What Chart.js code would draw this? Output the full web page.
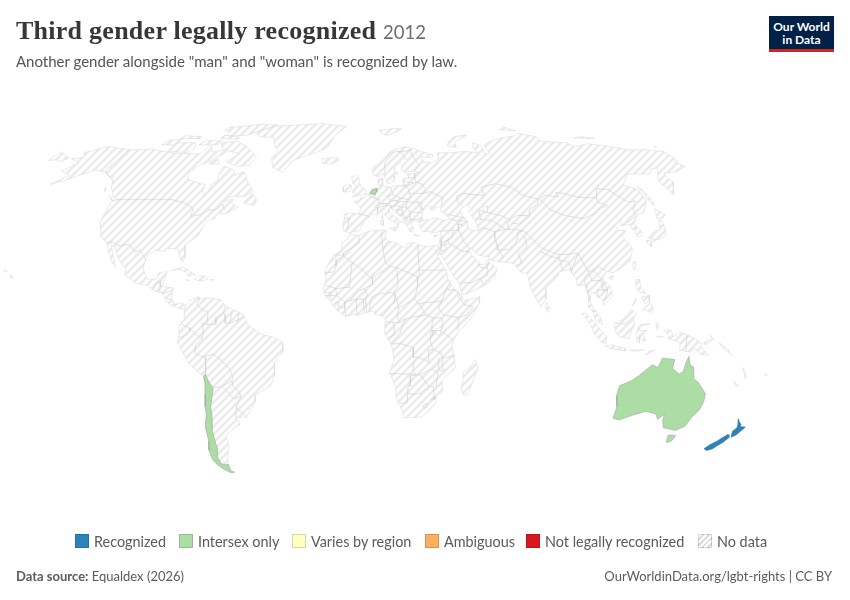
<!DOCTYPE html>
<html>
<head>
<meta charset="utf-8">
<script src="https://cdn.jsdelivr.net/npm/chart.js@4"></script>
<style>
  html,body{margin:0;padding:0;background:#fff}
  body{width:850px;height:600px;position:relative;overflow:hidden;font-family:Lato,sans-serif}
  canvas{position:absolute;left:0;top:0}
  .t{position:absolute;white-space:nowrap}
  #title{left:16px;top:16px;font:bold 26px "Liberation Serif",serif;color:#373737;letter-spacing:.26px}
  #title span{font:400 18.5px Lato,sans-serif;color:#6e6e6e;letter-spacing:0;margin-left:0}
  #sub{left:16px;top:52px;font-size:15px;color:#555}
  #logo{position:absolute;left:769px;top:16px;width:65px;height:36px;background:#002147;border-bottom:3px solid #ce261e;box-sizing:border-box;color:#fff;font:bold 12px/13px Lato,sans-serif;text-align:center;padding-top:4px}
  .lg{position:absolute;top:534px;width:14px;height:14px;box-sizing:border-box;border:1px solid rgba(0,0,0,.15)}
  .lt{top:532.5px;font-size:14.4px;color:#5b5b5b}
  #src{left:16px;top:568px;font-size:13px;color:#5b5b5b}
  #src b{font-weight:700}
  #cc{right:18px;top:568px;font-size:13px;color:#5b5b5b}
</style>
</head>
<body>
<canvas id="map" width="850" height="600"></canvas>
<div class="t" id="title">Third gender legally recognized <span>2012</span></div>
<div class="t" id="sub">Another gender alongside "man" and "woman" is recognized by law.</div>
<div id="logo">Our World<br>in Data</div>
<div id="legend"></div>
<div class="t" id="src"><b>Data source:</b> Equaldex (2026)</div>
<div class="t" id="cc">OurWorldinData.org/lgbt-rights | CC BY</div>
<script>
// ===== land outlines, [lon, lat] =====
const eurasia = [[-5.6,36],[-9,37],[-9.5,38.8],[-8.8,41.5],[-9.2,43.1],[-7.5,43.8],[-1.8,43.4],[-1.2,45.5],[-2.5,47.3],[-4.7,48.3],[-1.6,48.7],[-1.5,49.7],[.2,49.6],[1.6,50.9],[3.5,51.4],[4.7,53],[7,53.4],[8.6,53.9],[8.2,55.5],[8.1,57],[10.6,57.7],[10.3,56.5],[10,55],[11,54],[12.5,54.4],[14.2,53.9],[16.5,54.5],[18.6,54.6],[19.8,54.4],[21.1,55.2],[21,57],[22.6,57.7],[24.4,57.2],[24.4,58.4],[23.5,59.2],[28,59.5],[30.2,59.9],[28.5,60.5],[25,60.2],[22.9,59.9],[21.3,60.8],[21.4,62.5],[25.3,65],[24.2,65.8],[22,65.5],[21.3,64.4],[17.5,62],[17.2,60.7],[18.9,59.8],[16.7,58.5],[16.5,56.5],[14.3,55.5],[12.9,55.4],[11.2,58.9],[10.6,59.4],[8.5,58.2],[5.6,58.9],[5,61.5],[8.5,63.5],[12.5,66],[15.5,68.5],[20,70],[25.7,71.1],[31,70.3],[33,69.4],[41,67.5],[40,66.2],[33.5,66.7],[34.8,64.5],[38,64],[40.5,64.6],[44,66],[44,68.3],[54,68.5],[60,69],[68,68.5],[67,71],[69,73],[73,71.5],[72.5,68],[75,68],[75,72],[80.5,73.5],[87,75],[100,76.4],[104.3,77.7],[113,76],[113,73.8],[128,73],[130,71],[140,72.6],[150,71.5],[160,69.7],[170,69.8],[180,69],[180,65],[177.5,64.6],[179.5,62.4],[170,60],[163.5,59.8],[162,57.8],[163,56],[156.7,51],[155.7,56],[156.8,57.7],[163,61.6],[160,61.8],[155,59.3],[143,59.3],[135.2,54.8],[141,53],[140.5,48.5],[135.5,44],[132,43.2],[130.7,42.3],[127.6,39.8],[129.4,37],[129,35.2],[126.4,34.5],[126.7,37.2],[125.2,38],[125.3,39.6],[121.2,38.8],[122,40.5],[118,39.2],[119,37.3],[122.5,37],[119.3,35],[121.9,31.5],[122,29.8],[119.5,25.5],[114,22.3],[110.5,21],[108.3,21.6],[105.8,19],[108.8,15.5],[109.3,12],[105,8.7],[105,10.4],[102.5,12],[100.9,13.5],[100,13.4],[99.2,10],[100.5,7.2],[103.4,4],[104.2,1.4],[101.3,2.9],[100.3,6],[98.3,8],[98.7,12],[97.6,16.5],[94.3,16],[94.3,18.5],[91.8,22.4],[89,21.8],[87,21.4],[86.5,20],[82.3,16.6],[80.2,15],[80,11],[77.5,8.1],[76.2,10],[73.5,16],[72.8,21],[70.5,20.8],[69,22.3],[67.5,24.5],[61.6,25.2],[57.3,25.7],[56.4,27],[52,27.7],[48.9,30.3],[48,29.9],[48.7,28],[50.2,26.6],[51.5,25],[51.6,24.3],[54,24.2],[56.4,26.2],[56.4,24.9],[59.8,22.5],[57.8,19],[55,17],[52,15.6],[45,12.8],[43.4,12.7],[42.8,15],[42.6,16.5],[39.2,21],[37,25],[35,28],[34.9,29.5],[34.3,31.3],[35,33],[36,35],[36,36.8],[32.5,36.1],[30.6,36.8],[27.5,36.7],[26.3,39.3],[26.7,40.3],[29,41],[31.4,41.2],[35,42],[38,41],[41.5,41.5],[39,43.8],[37.5,44.8],[38.5,46.5],[35,45.7],[33.5,44.5],[32.6,45.5],[33.5,46.1],[31,46.6],[29.7,45.2],[28.6,43.5],[28,42],[29,41.2],[26.7,40.6],[24,40.8],[23.5,40.2],[22.7,40.3],[23,38.8],[24,38],[23,36.5],[21.7,36.9],[21,38.4],[19.4,40.3],[19.5,41.8],[17,43],[14.6,45.1],[13.6,45.7],[12.3,45.3],[12.5,44],[13.6,43.5],[16,41.9],[18.5,40.2],[17,40.5],[16.6,39],[16,38],[15.7,40],[12.5,41.4],[10.5,42.9],[8.8,44.4],[6.5,43.1],[4,43.5],[3.1,42.4],[.5,40.6],[-.3,39.2],[-2,36.8],[-4.5,36.7]]
const africa = [[-5.9,35.8],[-2,35.1],[3,36.9],[9.8,37.3],[11,36.9],[10.2,34.3],[11.2,33.2],[15.3,32.3],[19.2,30.3],[20,32],[23,32.7],[25,31.6],[29,30.9],[32.3,31.3],[34.3,31.3],[34.9,29.5],[34.2,27.8],[32.6,29.9],[33.8,27],[35.5,24],[37.2,21],[37.4,18.7],[39.5,15.5],[43.2,12.4],[43.3,11.5],[44.5,10.4],[51.2,11.9],[50.8,9.4],[47.9,4.5],[42,-1],[39.7,-4],[38.8,-6.5],[39.5,-10],[40.6,-15],[36.5,-18.5],[34.9,-20],[35.5,-24],[32.8,-25.9],[32.8,-28.5],[30,-31.5],[27,-33.8],[22,-34.1],[18.4,-34.1],[18.2,-32],[15,-27],[14.5,-22.5],[11.8,-17],[13.5,-12],[13,-8.5],[12.2,-6],[9.3,-2],[9.5,1],[9.8,3.5],[8.5,4.6],[5.5,5],[4.5,6.3],[1,5.9],[-2,4.8],[-4.5,5.2],[-7.5,4.4],[-11.4,6.9],[-13.3,9],[-15,11],[-16.7,12.4],[-17.5,14.7],[-16.3,19],[-17,21],[-16,23.7],[-13,27.8],[-9.8,29.5],[-9.5,32.5],[-6.9,34]]
const northAmerica = [[-168,65.6],[-162,66.5],[-166,68.4],[-156.5,71.3],[-141,69.7],[-128,70],[-115,68.5],[-108,68],[-96,68],[-94,72],[-90,68.7],[-85,69.5],[-81.5,69],[-85,66],[-87,65],[-93,62],[-94.5,59],[-92.5,57],[-85,55.3],[-82,55],[-82,52.5],[-80,51.3],[-79,52],[-79,54.7],[-76.8,56.5],[-78,58.8],[-77.5,62.5],[-71,61],[-69,58.8],[-65,60.3],[-60,55.5],[-56,52.5],[-59,50.3],[-66.5,50.2],[-69,48.2],[-65,49.2],[-64.7,47.5],[-61,46],[-65.5,43.6],[-70,43.7],[-70.7,41.7],[-74,40.6],[-75.5,37.5],[-75.9,35.5],[-78,33.9],[-81.2,31.5],[-80,27],[-80.5,25.2],[-81.8,26],[-82.8,28],[-84,30],[-89,30.3],[-89.5,29.2],[-94,29.5],[-97.3,27.5],[-97.8,22.5],[-95.5,18.7],[-91.5,18.5],[-90.5,21],[-87,21.5],[-88,17],[-88.6,15.8],[-83.5,15.3],[-83.7,11],[-82,9],[-79.5,9.6],[-77.4,8.6],[-77.9,7.2],[-80.3,7.4],[-83,8.3],[-85.8,10],[-87.6,13],[-91.5,14],[-94.5,16.2],[-100,16.9],[-105.6,20.4],[-105.5,22.5],[-109.3,26],[-113,31],[-114.7,31.7],[-112,26.5],[-110,23],[-112,24.8],[-115,29],[-117.1,32.5],[-120.6,34.5],[-124.3,40.3],[-124.6,48.3],[-122.5,48.7],[-125,50],[-130,54],[-133.5,58],[-137,58.5],[-140,60],[-147,61],[-152,59],[-158,56.5],[-163,55],[-158,58.7],[-165,60.5],[-161,64]]
const southAmerica = [[-77.4,8.6],[-75.5,10.7],[-72,12],[-71.5,10.8],[-68,11.5],[-62,10.7],[-60,8.4],[-52,5],[-50,1],[-44,-2.5],[-39,-3.5],[-35,-5.5],[-35,-9],[-39,-13],[-39,-18],[-41,-22],[-48,-25.5],[-48.6,-28],[-53.5,-34],[-58.4,-34],[-57,-36.5],[-62,-39],[-65,-41],[-65,-45],[-68,-50],[-68.5,-52.5],[-72,-53],[-74,-50],[-75,-47],[-73,-42],[-73.5,-38],[-71.5,-32],[-70,-25],[-70.3,-18.4],[-76,-14],[-81,-5.5],[-80,-2.5],[-80,.5],[-77.5,4],[-77.9,7.2]]
const chukotkaEast = [[-180,68.9],[-175,67.4],[-170,66.1],[-172.5,64.4],[-176,65.3],[-180,65]]
const greenland = [[-73,78.2],[-68,76],[-58,75.5],[-54,71],[-51,69.5],[-53,66],[-50,62],[-44,60],[-40,65],[-30,68],[-22,70.5],[-20,74],[-18,77],[-12,81.5],[-30,83.5],[-45,82.5],[-60,82],[-65,81]]
const baffin = [[-80,73.7],[-72,71.5],[-62,66.5],[-64,63],[-70,62.5],[-78,64.5],[-73,68],[-85,70],[-89,73]]
const victoriaIs = [[-117,69],[-105,68.5],[-102,70],[-105,73],[-117,73]]
const banksIs = [[-125,72],[-118,72],[-116,74.5],[-124,74.3]]
const ellesmere = [[-90,76.5],[-78,76.5],[-62,82.5],[-75,83],[-92,81]]
const devonIs = [[-92,75],[-80,74.7],[-81,75.8],[-92,76.7]]
const melvilleIs = [[-118,75],[-105,75],[-106,76],[-117,76.5]]
const axelHeiberg = [[-95,79],[-87,78.5],[-90,81],[-95,81]]
const somersetIs = [[-102,72],[-90,72],[-90,74],[-100,74]]
const southampton = [[-87,63.5],[-81,63.5],[-84,65.8]]
const newfoundland = [[-59,47.7],[-53,46.7],[-53,49],[-56,51.5]]
const vancouverIs = [[-128,50.7],[-123.5,48.4],[-125,48.8]]
const haidaGwaii = [[-133,54],[-131.5,53],[-132,52.3]]
const cuba = [[-85,21.9],[-80,23.1],[-74.2,20.2],[-77.7,19.9],[-78.5,21.2],[-82,22.4]]
const hispaniola = [[-74.4,18.5],[-72.8,19.9],[-69.9,19.7],[-68.4,18.6],[-71.5,17.8]]
const jamaica = [[-78.3,18.4],[-76.3,18.1],[-77.5,17.8]]
const puertoRico = [[-67.2,18.5],[-65.6,18.4],[-66.5,17.9]]
const hawaii = [[-156,20.2],[-155,19.7],[-155.7,18.9]]
const kauai = [[-159.8,22.2],[-157.8,21.6],[-158.3,21.2]]
const iceland = [[-24,65.5],[-20,66.1],[-15,66.3],[-13.6,65],[-18.7,63.4],[-22.7,63.8]]
const britain = [[-5.6,50],[1.4,51.2],[1.7,52.7],[-.3,53.7],[-2,55.8],[-2,57.6],[-3.5,58.6],[-6,58.3],[-5.5,55.5],[-3,54.5],[-4.8,53],[-5,51.7],[-3,51.3]]
const ireland = [[-10,52],[-6.3,52.2],[-6,54.5],[-7.3,55.3],[-10,54.2]]
const svalbard = [[11,79],[21,80.3],[27,80],[18,77],[15,76.7]]
const novayaZemlya = [[52,71.5],[57,70.7],[58,73.5],[69,76.8],[60,76],[54,73.5]]
const severnaya = [[95,79.5],[105,79],[100,81]]
const newSiberian = [[137,75.3],[146,75],[150,75.2],[142,76]]
const wrangelIs = [[178.6,71],[180,71],[180,71.5]]
const sakhalin = [[142,54.3],[143,53],[143.7,49.5],[142.8,46.6],[142,47.5],[142,51]]
const hokkaido = [[140,41.5],[141.7,45.4],[145.3,43.3],[143,42]]
const honshu = [[131,34.3],[135.5,33.5],[140,35.2],[141.5,38.5],[141.4,41.3],[140,40.5],[138.5,37.3],[136.5,37],[133,35.5]]
const kyushu = [[130,33.5],[132,33],[131,31],[130,32]]
const shikoku = [[132.3,33.8],[134.5,34.2],[134,33.3],[133,32.8]]
const taiwan = [[121,25.2],[122,25],[120.8,22],[120.1,23.2]]
const hainan = [[108.7,19.2],[110.8,20],[110,18.3]]
const sriLanka = [[80,9.7],[81.8,7.3],[80.6,6],[79.8,7.5]]
const luzon = [[120.6,18.5],[122.3,18.4],[122,16],[124,13],[120.8,13.9],[120,16]]
const mindanao = [[122,7],[125.5,9.7],[126.5,7],[125.4,5.7],[124,6.7]]
const visayas = [[122,11.8],[125.5,12.5],[125,10],[123,9.2]]
const palawan = [[117.3,8.4],[119.5,11.3],[119,10]]
const sumatra = [[95.3,5.6],[97.5,5.2],[100.5,2.3],[104.5,-1.8],[106,-3.2],[105.8,-5.8],[104,-5.5],[101,-2.7],[98.7,1.7]]
const java = [[105.3,-6.8],[108.5,-6.5],[114.5,-7.8],[114.4,-8.7],[108,-7.8]]
const borneo = [[109.2,1.5],[111.3,2.7],[113,3.2],[115.5,5.5],[117,7],[119.2,5.2],[117.7,3.5],[118,1],[116.5,-1.5],[116,-4],[111.5,-3.3],[110,-1.5]]
const sulawesi = [[119.8,.8],[125,1.6],[120.8,1.3],[120.2,-1],[123.3,-.9],[121.8,-2],[123,-5],[121.7,-4.8],[120.5,-2.9],[120.4,-5.5],[119.4,-5.4],[119,-2.5]]
const timor = [[123.5,-10.3],[127.3,-8.4],[125,-8.7]]
const sumbawa = [[116.3,-8.4],[122.8,-8.3],[119,-8.9]]
const seram = [[127.8,-3.2],[130.8,-3.2],[129,-3.6]]
const halmahera = [[127.5,2],[128.6,1.5],[128,-.7],[127.6,.8]]
const newGuinea = [[131,-.8],[134,-.8],[135,-3.3],[137.8,-1.6],[141,-2.6],[145,-4.3],[147.8,-6.2],[147,-6.8],[150.8,-10.3],[147.5,-10],[144.5,-7.7],[143,-9.2],[138,-8.3],[138,-5.5],[133,-4],[132.8,-2.5]]
const newBritain = [[148.3,-5.6],[152,-4.2],[151.5,-5.5],[149,-6.3]]
const newIreland = [[150.8,-2.6],[153,-4.5],[152.6,-4.8]]
const solomons = [[155,-5.5],[159,-8],[161.5,-10.5],[160,-9.5],[156,-6.8]]
const vanuatu = [[166.6,-15],[168,-16],[169.3,-19.5],[167.5,-16.5]]
const newCaledonia = [[164,-20],[167,-22.2],[166,-22.3]]
const fiji = [[177.3,-17.5],[178.7,-17.7],[177.5,-18.3]]
const madagascar = [[49.3,-12],[50.5,-15.5],[49.5,-18],[47,-25],[45,-25.5],[43.5,-23],[44.3,-20],[44,-17],[47,-15]]
const sicily = [[12.5,38],[15.6,38.2],[15,36.7]]
const sardinia = [[8.2,40.9],[9.7,41],[9.5,39.1],[8.5,39]]
const corsica = [[8.7,42.4],[9.5,43],[9.3,41.4]]
const crete = [[23.6,35.5],[26.3,35.2],[24.8,34.9]]
const cyprus = [[32.3,35],[34.5,35.6],[33.5,34.7]]

// white water sitting on top of the land
const caspian = [[47,45],[51,47],[53,45],[51,44.5],[53,41],[54,37],[50,37.3],[49,38.5],[49.5,40.5],[47.5,43]]
const aral = [[58.5,46],[61,46.5],[60,44],[58.5,44]]
const victoriaLake = [[31.8,-.3],[34,.3],[33.7,-2.4],[32,-2.5]]

// ===== coloured countries =====
const chile = [[-70.4,-18.4],[-70.1,-21],[-70.6,-25],[-71.5,-30],[-71.7,-33],[-73.5,-37.2],[-73.7,-40],[-74,-43],[-75.5,-46.5],[-75.5,-50],[-74.5,-52],[-72,-54],[-69,-55.5],[-67,-55.3],[-68.6,-54.8],[-68.6,-52.7],[-68.4,-52.3],[-71.9,-52],[-72.3,-50.5],[-72.6,-49],[-71,-46],[-71,-43],[-70.8,-39.5],[-69.8,-36],[-69.2,-33],[-69,-30],[-68,-27],[-67,-24],[-66.8,-22.8],[-68,-21],[-69,-19],[-69.5,-17.5]]
const australia = [[114,-22],[113.5,-26],[115,-30],[115,-34.3],[118,-35],[124,-33],[129,-31.7],[134,-32.7],[135.7,-34.8],[137.8,-32.8],[138.5,-35.5],[140.5,-38],[144,-38.5],[146.5,-39],[150,-37.5],[151,-34],[153,-31],[153.5,-28],[153,-25],[149,-21],[146,-19],[145.3,-15],[143.5,-14],[142.5,-10.8],[141.6,-13],[141,-16.5],[139.5,-17.5],[136,-15.5],[136.5,-12],[131,-11.5],[129.5,-15],[127,-14],[125,-15.5],[122,-18],[119,-20]]
const tasmania = [[144.7,-40.7],[148.3,-40.9],[148,-43],[146,-43.6],[145.3,-42.5]]
const netherlands = [[3.4,51.4],[4.7,53],[7.1,53.4],[7,52.2],[6,50.8],[5.8,51.2],[4,51.3]]
const nzNorth = [[172.7,-34.5],[174.5,-36],[175.6,-36.6],[176,-37.6],[178.5,-37.7],[177.5,-39.3],[176.8,-40.5],[175.3,-41.6],[174.6,-40.8],[173.8,-39.3],[174.8,-38],[174.3,-36.8]]
const nzSouth = [[172.7,-40.5],[174.3,-41.7],[173.2,-43.5],[171.5,-45],[170.7,-46],[168.5,-46.7],[166.5,-46],[167.8,-44.5],[170,-43],[171.2,-41.8]]

// ===== country borders =====
const bordersAmerica = [
  [[-123,49],[-95,49],[-89.5,48],[-84.5,46.5],[-82.5,45],[-82.5,42.5],[-79,43],[-76.5,44],[-74.7,45],[-71,45.2],[-69,47.3],[-67.8,45.7],[-67,44.9]],
  [[-141,69.7],[-141,60.3],[-137,58.8],[-130,55.5]],
  [[-117.1,32.5],[-114.7,32.7],[-111,31.3],[-106.5,31.8],[-103,29],[-101,29.7],[-97.3,25.9]],
  [[-92.2,14.6],[-91,17],[-89.2,17.9],[-88.3,18.4]],[[-89.2,17.9],[-89.2,15.9],[-88.6,15.8]],[[-89.2,15.9],[-89.3,14.4],[-90,13.7]],[[-89.3,14.4],[-87.7,13.3]],
  [[-87.5,13],[-85,14],[-83.2,15]],[[-85.7,11],[-83.7,11]],[[-83,8.3],[-82.6,9.6]],
  [[-71.3,11.8],[-72.5,9],[-70,7],[-67.5,6],[-67.8,2],[-66.9,1.2]],[[-66.9,1.2],[-69.8,1.7],[-69.5,-1],[-70,-4.2]],[[-70,-4.2],[-73,-2.3],[-75.3,-.1],[-78.8,1.4]],[[-75.3,-.1],[-75.5,-1.5],[-78.3,-3.5],[-80.3,-3.4]],
  [[-60,8.4],[-61,5.2],[-64,4],[-64,1.5],[-66.9,1.2]],[[-60,5.2],[-60,2],[-57.8,1.8],[-51.7,4.2]],[[-57,6],[-58,2]],[[-54,5.8],[-54.5,2.3]],
  [[-70,-4.2],[-73,-6.5],[-73.5,-9.5],[-70.5,-11]],[[-69,-11],[-69,-15],[-69.5,-17.5]],[[-70.5,-11],[-65.5,-10],[-60.5,-13.5],[-58.2,-16.3],[-57.5,-19],[-58,-20],[-62.5,-22.2],[-66.8,-22.8]],
  [[-62.5,-22.2],[-58,-27],[-54.6,-26]],[[-58,-20],[-57.8,-22.2],[-55.5,-24],[-54.6,-26],[-57.5,-30.2],[-53.5,-33.7]],[[-57.5,-30.2],[-58.4,-34]]
]
const bordersAfrica = [
  [[-2,35.1],[-1.5,32.5],[-5,30.5],[-8.7,28.7],[-8.7,27.3]],[[-8.7,27.7],[-13,27.8]],[[-8.7,27.3],[-12,26],[-12,23.5],[-13,21.3],[-17,21]],[[-8.7,27.3],[-4.8,25],[-6,15.5],[-12,15],[-16.5,16.3]],
  [[-12,15],[-11.5,12.4],[-16.7,12.4]],[[-16.7,13.6],[-14,13.4]],[[-15,11],[-13.7,12.7]],[[-11.5,12.4],[-8,10],[-8,7.5],[-7.5,4.4]],[[-4.8,25],[1.2,21],[3.3,19],[4.2,19.1],[4.2,16.5],[.5,15],[-2,14.2],[-5.5,10.5],[-8,10]],
  [[-13.3,9],[-11,10],[-10.5,8.3],[-11.4,6.9]],[[-10.5,8.3],[-8,7.5]],[[-3,5],[-2.8,11]],[[-5.5,10.5],[-2.8,11],[1,11],[2,12.5],[.5,15]],[[0,11],[.6,6]],[[1,11],[1.6,6.2]],[[2.7,6.4],[3.6,11.7],[7,13],[13.5,13.5]],
  [[4.2,19.1],[12,23.5],[15,23],[15.5,16.5],[13.5,13.5]],[[8.5,36.9],[9,30],[10,25],[12,23.5]],[[9,30],[11.5,33]],[[25,31.6],[25,20],[24,19.5],[15,23]],[[24,19.5],[24,15.7],[22.5,11]],[[25,22],[37,22]],[[38.6,18],[36.4,14.5],[34.5,10.5]],
  [[13.5,13.5],[15,10],[15.5,7.5],[18.5,9],[22.5,11],[25,8.5],[27.5,5]],[[8.5,4.6],[11,7],[13.5,10],[14.2,13]],[[24,9],[27,9.7],[33,10],[34.5,10.5],[33,7.5],[35,5]],[[27.5,5],[31,3.7],[34,4]],[[27.5,5],[22,4.2],[18.5,3.5]],[[15.5,7.5],[15,4],[16,2],[18.5,3.5]],
  [[9.8,2.3],[13,2.2],[16,2]],[[13,2.2],[14,-2.3],[11,-3.8]],[[18.5,3.5],[16,-2],[13.2,-4.8],[12.2,-5.8]],[[12.3,-6],[16.5,-6],[22,-7.5],[22,-11.2],[24,-11],[28,-12.5],[29,-13.4],[28.5,-8.5],[30.5,-8.2],[29.2,-4.5],[29.6,-1],[30,1.5],[31,3.7]],
  [[34,4],[35,1.5],[34,-1],[39.2,-4.7]],[[29.6,-1],[30.8,-1],[30.5,-2.5],[29.2,-4.5]],[[30.5,-1],[34,-1]],[[30.5,-8.2],[34,-9.5],[34.9,-11.5],[40.4,-10.5]],[[35,5],[41.9,3.9],[41,-1]],[[41.9,3.9],[45,5],[48,8],[44,9],[42.8,11]],
  [[36.4,14.5],[40,14.5],[42.4,12.6]],[[42.8,11],[41.8,11.5],[42.4,12.6]],[[11.8,-17.3],[23.4,-17.6]],[[24,-11],[22,-13],[22,-16.3],[23.4,-17.6]],[[25,-17.8],[21,-18.2],[21,-22],[20,-22],[20,-28.4],[16.5,-28.6]],[[20,-24.8],[23,-25.3],[26,-24.7],[29.4,-22.2]],
  [[25,-17.8],[28.5,-16.3],[30.4,-15.6],[33,-17],[32.5,-22.3]],[[25.3,-17.9],[29.4,-22.2],[31.3,-22.4],[32,-26],[32.9,-26.9]],[[34.9,-11.5],[34.5,-14.5],[35.5,-16],[34,-16.5],[33,-14],[33.2,-11]],[[30.4,-15.6],[33,-14]],
  [[27,-29.6],[28.7,-28.6],[29.4,-29.6],[28,-30.6],[27,-29.6]],[[30.8,-26.8],[32,-26],[32,-27.3],[31,-27.3],[30.8,-26.8]]
]
const bordersEurope = [
  [[-8.8,41.9],[-6.5,41.7],[-7,39.5],[-7.4,37.2]],[[-1.8,43.4],[3.1,42.4]],[[2.5,51.1],[4.2,50],[6,49.5],[8.2,49],[7.6,47.6],[6,46.3],[7,45.9],[7,44],[7.5,43.8]],[[6,50.8],[6,49.5]],[[8.6,54.9],[9.9,54.8]],
  [[14.2,53.9],[14.7,52],[15,51],[12.2,50.3],[13.8,48.7],[13,47.5],[9.6,47.5],[7.6,47.6]],[[7,45.9],[10.4,46.5],[12.5,47],[13.7,46.5],[13.6,45.7]],[[9.6,47.5],[10.4,46.9]],[[15,51],[18.8,49.5],[22.6,49.1]],[[13.8,48.7],[17,48.7],[18.8,49.5]],
  [[17,48.7],[17,48],[22,48.4]],[[17,48],[16,46.8],[13.7,46.5]],[[16,46.8],[19,45.9],[21,46.2],[22,48.4]],[[21,46.2],[22.7,44.2],[22.4,42.3],[22.9,41.3]],[[22.7,44.2],[27.5,44],[28.6,43.7]],[[22.9,41.3],[26.3,41.5],[28,42]],[[20,39.7],[21,40.9],[22.9,41.3]],[[19.4,41.9],[20.6,41.9],[21,40.9]],
  [[16,45.2],[19,44.9],[19.3,43],[17.6,42.9],[16,45.2]],[[19,45.9],[19,44.9]],[[19.3,43],[20.6,41.9],[22.4,42.3]],[[19.8,54.4],[23,54.4],[23.5,51.6],[24,50.5],[22.6,49.1]],[[22,48.4],[24.9,47.7],[27,48.3],[29.1,47.5],[28.2,45.5],[29.7,45.2]],[[27,48.3],[28.2,45.5]],
  [[23.5,51.6],[30.5,51.4],[34,52.2],[40,49.6],[38.5,47]],[[30.5,51.4],[32,53],[31,55],[28,56]],[[23,54.4],[26.5,55.6],[28,56]],[[21,56.2],[26.5,55.6]],[[24.4,58],[27.5,57.5]],[[28,59.5],[27.5,57.5],[28,56]],[[20.8,55.3],[22.8,54.4]],
  [[28,60.5],[31.5,62.9],[29,66.9],[28.5,69],[29,69.8]],[[24.2,65.8],[23.6,67.9],[20.6,69],[18,68.5],[15,66],[12,63.5],[12.2,61],[11.2,59]],[[20.6,69],[25,69],[29,69.8]]
]
const bordersAsia = [
  [[40,43.4],[44,42.7],[48.6,41.8]],[[41.5,41.5],[43.5,41],[46,41],[46.5,39],[44.8,39.7],[43.5,41]],[[46,41],[49.5,40.5]],[[44.8,39.7],[44.5,37.5],[45.5,35],[46,33],[47.7,31],[48.5,30]],[[44.8,37.2],[42,37.2],[36.2,36.8]],[[42,37.2],[41,34.4],[38.8,33.4],[36,32.6]],[[35.9,34.6],[36.6,34],[35.8,33.3]],
  [[35.1,33.1],[35.8,33.3],[35.5,31],[35,29.5]],[[38.8,33.4],[39.2,32.2],[37,31.5],[38,30.4],[36,29.2],[35,29.4]],[[39.2,32.2],[44.7,29.2],[46.5,29],[48,29]],[[46.5,29],[48,30]],[[42.8,16.4],[44,17.4],[47,17],[52,19],[53,16.7]],[[52,19],[55,20],[55.6,22],[55.2,22.7]],[[51.6,24.3],[52.6,22.9],[55.2,22.7],[56,24.9]],
  [[54,37.3],[56,38.2],[61,36.7],[60.6,34.3],[61,31.4],[60.9,29.8],[63,27.2],[61.6,25.2]],[[60.9,29.8],[66,29.8],[69.3,31.9],[71,34],[71.5,36.3],[74.5,37]],[[53.5,41.8],[56,41.3],[61,41],[66.5,37.5]],[[61,36.7],[65,37.3],[66.5,37.5],[70,37.6],[74.5,37]],[[56,45],[56,41.3]],[[56,45],[62,43.5],[66,42.8],[70,41]],
  [[70,41.5],[74,42.9],[80,42.8]],[[70,40],[73.5,39.5]],[[68,37],[68,40],[70,41]],[[73.7,39.5],[80,42.8],[80.5,45],[85.5,47],[87.3,49]],[[49,46.5],[47,48],[47,50.3],[51,51.5],[55,51],[61,50.7],[61,54],[69,55.3],[76.5,54],[80,51],[87.3,49]],
  [[87.8,49.2],[92,50.7],[98,50],[98,52],[102,51.4],[107,50],[113,49.7],[116.7,49.8],[116,48],[119.8,46.7],[115,45.5],[111.8,43.7],[105,41.6],[97,42.8],[91,45],[88,49]],[[116.7,49.8],[120,53.3],[125.5,53],[131,48],[135,48.5],[131,45],[130.7,42.5]],[[124.4,40],[128,41.5],[130.7,42.5]],[[125.8,37.8],[128.4,38.6]],
  [[74.5,37],[76,35.7],[79,32.5],[81,30.3],[88,28],[92,28],[97,28.5],[98.5,24.5],[100,21.7],[102,21.7],[105,23.3],[108,21.6]],[[80.3,29],[84,27.4],[88,26.5],[88,28]],[[74.5,35],[74.5,31],[70,28],[71,24.5],[68.2,23.7]],[[88,26.3],[88.8,22]],[[88,26],[92,25],[92.5,21.2]],[[97,28.3],[94,24],[92.5,21.2]],
  [[100,21],[97.5,18.5],[98.7,15],[99,11],[98.7,10]],[[100,21.7],[101,18],[105,18],[105.5,14.3],[107.5,14.5],[105,19],[102,22.3]],[[102.5,12],[103,14.3],[107.5,14.5],[106,11],[104.8,10.4]],[[100.2,6.5],[102,6.2]],[[109.7,1.8],[114,1.5],[117.5,4.2]],[[141,-2.6],[141,-9.1]]
]

const noDataLand = [eurasia, africa, northAmerica, southAmerica, chukotkaEast, greenland, baffin, victoriaIs, banksIs, ellesmere, devonIs, melvilleIs, axelHeiberg, somersetIs, southampton, newfoundland, vancouverIs, haidaGwaii, cuba, hispaniola, jamaica, puertoRico, hawaii, kauai, iceland, britain, ireland, svalbard, novayaZemlya, severnaya, newSiberian, wrangelIs, sakhalin, hokkaido, honshu, kyushu, shikoku, taiwan, hainan, sriLanka, luzon, mindanao, visayas, palawan, sumatra, java, borneo, sulawesi, timor, sumbawa, seram, halmahera, newGuinea, newBritain, newIreland, solomons, vanuatu, newCaledonia, fiji, madagascar, sicily, sardinia, corsica, crete, cyprus]
const water = [caspian, aral, victoriaLake]
const intersexOnly = [chile, australia, tasmania, netherlands]
const recognized = [nzNorth, nzSouth]
const allBorders = [...bordersAmerica, ...bordersAfrica, ...bordersEurope, ...bordersAsia]

const legendLabels = ['Recognized', 'Intersex only', 'Varies by region', 'Ambiguous', 'Not legally recognized', 'No data']
const legendColors = ['#2b83ba', '#abdda4', '#ffffbf', '#fdae61', '#d7191c', null]
const legendBoxX = [75, 179, 292, 425, 526, 698]

// Robinson projection table, every 5 degrees of latitude
const robX = [1,.9986,.9954,.99,.9822,.973,.96,.9427,.9216,.8962,.8679,.835,.7986,.7597,.7186,.6732,.6213,.5722,.5322]
const robY = [0,.062,.124,.186,.248,.31,.372,.434,.4958,.5571,.6176,.6769,.7346,.7903,.8435,.8936,.9394,.9761,1]

function lookup(table, lat) {
  const a = Math.min(Math.abs(lat), 89.99) / 5
  const i = Math.floor(a)
  return table[i] + (table[i + 1] - table[i]) * (a - i)
}
function project(p) {
  return { x: p[0] * lookup(robX, p[1]), y: Math.sign(p[1]) * lookup(robY, p[1]) }
}
function ring(coords) {
  return [...coords, coords[0]].map(project)
}

function hatch(bg) {
  const c = document.createElement('canvas')
  c.width = c.height = 8
  const g = c.getContext('2d')
  g.fillStyle = bg
  g.fillRect(0, 0, 8, 8)
  g.strokeStyle = '#ebebeb'
  g.lineWidth = 2.6
  g.beginPath()
  g.moveTo(-2, 2); g.lineTo(2, -2)
  g.moveTo(-2, 10); g.lineTo(10, -2)
  g.moveTo(6, 10); g.lineTo(10, 6)
  g.stroke()
  return c
}
const hatchPattern = document.getElementById('map').getContext('2d').createPattern(hatch('#fff'), 'repeat')

function shape(coords, fillColor, lineColor, order) {
  return { data: ring(coords), showLine: true, fill: 'shape', backgroundColor: fillColor, borderColor: lineColor, borderWidth: 0.6, pointRadius: 0, tension: 0, order }
}

const datasets = [
  ...noDataLand.map(c => shape(c, hatchPattern, '#dcdcdc', 5)),
  ...water.map(c => shape(c, '#fff', '#dcdcdc', 4)),
  ...allBorders.map(b => ({ data: b.map(project), showLine: true, fill: false, borderColor: '#d2d2d2', borderWidth: 0.7, pointRadius: 0, tension: 0, order: 3 })),
  ...intersexOnly.map(c => shape(c, '#abdda4', '#a0a8a0', 2)),
  ...recognized.map(c => shape(c, '#2b83ba', '#2b6f9c', 1))
]

new Chart(document.getElementById('map'), {
  type: 'scatter',
  data: { datasets },
  options: {
    responsive: false,
    animation: false,
    layout: { padding: 0 },
    plugins: { legend: { display: false }, tooltip: { enabled: false } },
    scales: {
      x: { type: 'linear', display: false, min: -363 / 2.3, max: 487 / 2.3 },
      y: { type: 'linear', display: false, min: -272 / 212, max: 328 / 212 }
    }
  }
})

// legend row
const legend = document.getElementById('legend')
legendLabels.forEach((label, i) => {
  const box = document.createElement('div')
  box.className = 'lg'
  box.style.left = legendBoxX[i] + 'px'
  if (legendColors[i]) box.style.background = legendColors[i]
  else box.style.background = 'repeating-linear-gradient(135deg,#fff 0 2px,#ddd 2px 4px)'
  legend.appendChild(box)
  const t = document.createElement('div')
  t.className = 't lt'
  t.style.left = (legendBoxX[i] + 19) + 'px'
  t.textContent = label
  legend.appendChild(t)
})
</script>
</body>
</html>
